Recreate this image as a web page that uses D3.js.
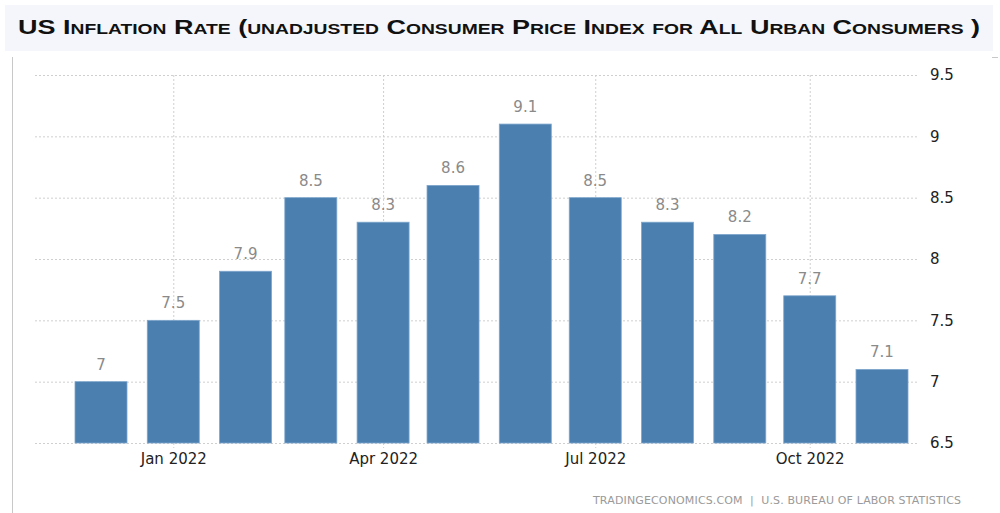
<!DOCTYPE html>
<html><head><meta charset="utf-8">
<script src="https://cdn.jsdelivr.net/npm/d3@7"></script>
<style>body{margin:0;background:#fff;}svg{display:block;}</style>
</head><body>
<svg id="c" width="1000" height="513"></svg>
<script>
const months = ["2021-12-01","2022-01-01","2022-02-01","2022-03-01","2022-04-01","2022-05-01","2022-06-01","2022-07-01","2022-08-01","2022-09-01","2022-10-01","2022-11-01"];
const values = [7, 7.5, 7.9, 8.5, 8.3, 8.6, 9.1, 8.5, 8.3, 8.2, 7.7, 7.1];
const valueLabels = ["7","7.5","7.9","8.5","8.3","8.6","9.1","8.5","8.3","8.2","7.7","7.1"];
const yTicks = [6.5, 7, 7.5, 8, 8.5, 9, 9.5];
const xTicks = ["2022-01-01","2022-04-01","2022-07-01","2022-10-01"];
const title = "US Inflation Rate (unadjusted Consumer Price Index for All Urban Consumers )";
const source = "TRADINGECONOMICS.COM  |  U.S. BUREAU OF LABOR STATISTICS";

const parse = d3.utcParse("%Y-%m-%d");
const svg = d3.select("#c");

// title box
svg.append("rect").attr("x",5).attr("y",5).attr("width",988).attr("height",46).attr("fill","#f4f6fb");
svg.append("text").attr("x",18).attr("y",34).text(title)
  .attr("font-family","Liberation Sans, Arial, sans-serif").attr("font-weight","bold")
  .attr("font-size",21).style("font-variant","small-caps").attr("fill","#111")
  .attr("textLength",962).attr("lengthAdjust","spacingAndGlyphs");

// frame lines
svg.append("line").attr("x1",12.5).attr("x2",12.5).attr("y1",57).attr("y2",513).attr("stroke","#c8c8c8");
svg.append("line").attr("x1",992).attr("x2",998).attr("y1",57.5).attr("y2",57.5).attr("stroke","#c8c8c8");

const x = d3.scaleUtc().domain([parse("2021-12-01"), parse("2022-11-01")]).range([101, 882]);
const y = d3.scaleLinear().domain([6.5, 9.5]).range([443, 75]);
const gx0 = 35, gx1 = 918;

// horizontal grid
const yAxis = d3.axisRight(y).tickValues(yTicks).tickSize(gx1-gx0).tickPadding(12).tickFormat(d3.format("~g"));
const gy = svg.append("g").attr("transform",`translate(${gx0},0)`).call(yAxis);
gy.select(".domain").remove();
gy.selectAll(".tick line").attr("stroke","#cfcfcf").attr("stroke-dasharray","2,2");
gy.selectAll(".tick text").attr("font-family","Tahoma, DejaVu Sans, sans-serif").attr("font-size",15).attr("fill","#222").attr("x",gx1-gx0+12);

// vertical grid + x axis
const xAxis = d3.axisBottom(x).tickValues(xTicks.map(parse)).tickSize(0).tickPadding(12).tickFormat(d3.utcFormat("%b %Y"));
const gxa = svg.append("g").attr("transform","translate(0,443)").call(xAxis);
gxa.select(".domain").remove();
gxa.selectAll(".tick text").attr("font-family","Tahoma, DejaVu Sans, sans-serif").attr("font-size",15).attr("fill","#222").attr("dy","0.71em").attr("y",10);
gxa.selectAll(".tick").append("line").attr("y1",-368).attr("y2",5).attr("stroke","#cfcfcf").attr("stroke-dasharray","2,2");

// bars
const bw = 52;
const data = months.map((m,i)=>({d:parse(m), v:values[i], l:valueLabels[i]}));
svg.append("g").selectAll("rect").data(data).join("rect")
  .attr("x",d=>x(d.d)-bw/2).attr("width",bw)
  .attr("y",d=>y(d.v)).attr("height",d=>y(6.5)-y(d.v))
  .attr("fill","#4a7fb0").attr("stroke","#7ea6cc").attr("stroke-width",0.8);

svg.append("g").selectAll("text").data(data).join("text")
  .attr("x",d=>x(d.d)).attr("y",d=>y(d.v)-12).attr("text-anchor","middle")
  .attr("font-family","Tahoma, DejaVu Sans, sans-serif").attr("font-size",15).attr("fill","#8a8a8a")
  .text(d=>d.l);

// source
svg.append("text").attr("x",961).attr("y",504).attr("text-anchor","end")
  .attr("font-family","Tahoma, DejaVu Sans, sans-serif").attr("font-size",11).attr("fill","#9a9a9a")
  .attr("textLength",368).attr("lengthAdjust","spacing").style("white-space","pre").text(source);
</script>
</body></html>
